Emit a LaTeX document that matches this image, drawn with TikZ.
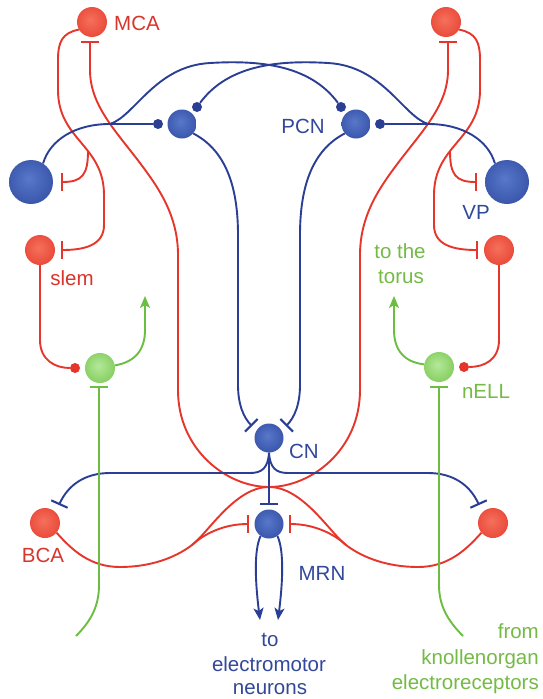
\documentclass[tikz,border=0pt]{standalone}
\usepackage{fontspec}
\setmainfont{Liberation Sans}
\usetikzlibrary{arrows.meta}
\definecolor{rline}{HTML}{E6352A}
\definecolor{bline}{HTML}{2A3F94}
\definecolor{gline}{HTML}{6CBE42}
\definecolor{rtext}{HTML}{D8352C}
\definecolor{btext}{HTML}{32489A}
\definecolor{gtext}{HTML}{74BB46}
\definecolor{rlight}{HTML}{F4715C}
\definecolor{rdark}{HTML}{E2261B}
\definecolor{blight}{HTML}{5878CA}
\definecolor{bdark}{HTML}{1E378E}
\definecolor{glight}{HTML}{B4E899}
\definecolor{gdark}{HTML}{5EB72E}
\pgfdeclareradialshading{redcellsh}{\pgfpoint{-3bp}{4bp}}{color(0bp)=(rlight); color(52bp)=(rdark)}
\pgfdeclareradialshading{bluecellsh}{\pgfpoint{-3bp}{4bp}}{color(0bp)=(blight); color(52bp)=(bdark)}
\pgfdeclareradialshading{greencellsh}{\pgfpoint{-3bp}{4bp}}{color(0bp)=(glight); color(52bp)=(gdark)}
\begin{document}
\begin{tikzpicture}[x=1pt,y=-1pt,
  cellbase/.style={circle,inner sep=0pt,minimum size=30pt,shade},
  rcell/.style={cellbase,shading=redcellsh},
  bcell/.style={cellbase,minimum size=29pt,shading=bluecellsh},
  bbig/.style={cellbase,minimum size=44pt,shading=bluecellsh},
  gcell/.style={cellbase,shading=greencellsh},
  bsyn/.style={circle,fill=bline,inner sep=0pt,minimum size=10pt},
  rsyn/.style={circle,fill=rline,inner sep=0pt,minimum size=10pt},
  rax/.style={draw=rline,line width=1.9pt},
  bax/.style={draw=bline,line width=1.9pt},
  gax/.style={draw=gline,line width=1.9pt},
  teeend/.style={-{Bar[width=18pt,line width=2.1pt]}},
  arrowend/.style={-{Stealth[length=12pt,width=10pt,inset=3pt]}},
  lab/.style={font=\fontsize{20.5}{25}\selectfont,inner sep=0pt,anchor=base}]
\useasboundingbox (0,0) rectangle (542,699);
\fill[white] (0,0) rectangle (542,699);

% cells
\node[rcell] (MCAL) at (92,22) {};
\node[rcell] (MCAR) at (446,22) {};
\node[bcell] (PCNL) at (182,124) {};
\node[bcell] (PCNR) at (356,124) {};
\node[bbig] (VPL) at (31,182) {};
\node[bbig] (VPR) at (507,182) {};
\node[rcell] (slemL) at (40,250) {};
\node[rcell] (slemR) at (499,250) {};
\node[gcell] (nellL) at (100,368) {};
\node[gcell] (nellR) at (439,367) {};
\node[bcell] (CN) at (269,438) {};
\node[bcell] (MRN) at (269,524) {};
\node[rcell] (BCAL) at (45,523) {};
\node[rcell] (BCAR) at (493,523) {};

% synaptic boutons
\node[bsyn] (sA) at (158,124) {};
\node[bsyn] (sB) at (197,107) {};
\node[bsyn] (sC) at (341,107) {};
\node[bsyn] (sD) at (380,124) {};
\node[rsyn] (sE) at (75,368) {};
\node[rsyn] (sF) at (464,367) {};

% coordinates
\coordinate (tMCAL) at (90,41);
\coordinate (tMCAR) at (448,41);
\coordinate (tVPL) at (61,182);
\coordinate (tVPR) at (477,182);
\coordinate (tSlemL) at (61,250);
\coordinate (tSlemR) at (478,250);
\coordinate (tNellL) at (99,386);
\coordinate (tNellR) at (439,386);
\coordinate (tCNL) at (252,426);
\coordinate (tCNR) at (286,426);
\coordinate (tMRNt) at (269,505);
\coordinate (tMRNl) at (249,524);
\coordinate (tMRNr) at (289,524);
\coordinate (tBCAL) at (59,505);
\coordinate (tBCAR) at (479,505);
\coordinate (inL) at (76,636);
\coordinate (inR) at (463,636);
\coordinate (torL) at (145,296);
\coordinate (torR) at (394,296);
\coordinate (emL) at (260,620);
\coordinate (emR) at (278,620);
\coordinate (jL) at (110,124);
\coordinate (jR) at (428,124);
\coordinate (b1) at (192,545);
\coordinate (b2) at (346,545);
\coordinate (mx) at (269,487);
\coordinate (bL) at (88,151);
\coordinate (bR) at (450,151);

% red connectors
\draw[rax,teeend] (MCAL.210) .. controls (62,33) and (58,42) .. (58,60) -- (58,90)
  .. controls (58,140) and (104,145) .. (104,195) -- (104,225)
  .. controls (104,245) and (85,250) .. (tSlemL);
\draw[rax,teeend] (bL) .. controls (88,175) and (82,182) .. (tVPL);
\draw[rax,teeend] (MCAR.330) .. controls (476,33) and (480,42) .. (480,60) -- (480,90)
  .. controls (480,140) and (434,145) .. (434,195) -- (434,225)
  .. controls (434,245) and (453,250) .. (tSlemR);
\draw[rax,teeend] (bR) .. controls (450,175) and (456,182) .. (tVPR);

\draw[rax,teeend] (BCAL.320) .. controls (72,550) and (90,567) .. (120,567)
  .. controls (150,567) and (175,558) .. (b1)
  .. controls (208,533) and (235,487) .. (mx)
  .. controls (311,487) and (360,450) .. (360,390) -- (360,255)
  .. controls (360,215) and (380,187) .. (398,163)
  .. controls (423,130) and (448,105) .. (448,70) -- (tMCAR);
\draw[rax,teeend] (b1) .. controls (205,533) and (225,524) .. (tMRNl);
\draw[rax,teeend] (BCAR.220) .. controls (466,550) and (448,567) .. (418,567)
  .. controls (388,567) and (363,558) .. (b2)
  .. controls (330,533) and (303,487) .. (mx)
  .. controls (227,487) and (178,450) .. (178,390) -- (178,255)
  .. controls (178,215) and (158,187) .. (140,163)
  .. controls (115,130) and (90,105) .. (90,70) -- (tMCAL);
\draw[rax,teeend] (b2) .. controls (333,533) and (313,524) .. (tMRNr);

\draw[rax] (slemL.south) -- (40,340) .. controls (40,360) and (55,368) .. (sE);
\draw[rax] (slemR.south) -- (499,340) .. controls (499,360) and (484,367) .. (sF);

% blue connectors
\draw[bax] (VPL.57) .. controls (50,140) and (75,124) .. (jL) -- (sA);
\draw[bax] (jL) .. controls (135,116) and (155,66) .. (210,63)
  .. controls (260,60) and (310,65) .. (sC);
\draw[bax] (VPR.123) .. controls (488,140) and (463,124) .. (jR) -- (sD);
\draw[bax] (jR) .. controls (403,116) and (383,66) .. (328,63)
  .. controls (278,60) and (228,65) .. (sB);
\draw[bax,teeend] (PCNL.320) .. controls (225,150) and (238,185) .. (238,235) -- (238,385)
  .. controls (238,405) and (244,418) .. (tCNL);
\draw[bax,teeend] (PCNR.220) .. controls (313,150) and (300,185) .. (300,235) -- (300,385)
  .. controls (300,405) and (294,418) .. (tCNR);
\draw[bax,teeend] (CN.south) -- (tMRNt);
\draw[bax,teeend] (CN.south) .. controls (268,468) and (262,473) .. (250,473) -- (110,473)
  .. controls (85,473) and (68,485) .. (tBCAL);
\draw[bax,teeend] (CN.south) .. controls (270,468) and (276,473) .. (288,473) -- (428,473)
  .. controls (453,473) and (470,485) .. (tBCAR);
\draw[bax,arrowend] (MRN.235) .. controls (254,550) and (255,580) .. (emL);
\draw[bax,arrowend] (MRN.305) .. controls (284,550) and (283,580) .. (emR);

% green connectors
\draw[gax,arrowend] (nellL.10) .. controls (135,362) and (145,350) .. (145,330) -- (torL);
\draw[gax,arrowend] (nellR.170) .. controls (404,362) and (394,350) .. (394,330) -- (torR);
\draw[gax,teeend] (inL) .. controls (92,620) and (99,605) .. (99,585) -- (tNellL);
\draw[gax,teeend] (inR) .. controls (447,620) and (439,605) .. (439,585) -- (tNellR);

% labels
\node[lab,rtext] (lMCA) at (137,30) {MCA};
\node[lab,btext] (lPCN) at (303,133) {PCN};
\node[lab,btext] (lVP) at (476,219) {VP};
\node[lab,rtext] (lslem) at (72,285) {slem};
\node[lab,gtext] (lnELL) at (486,398) {nELL};
\node[lab,btext] (lCN) at (304,458) {CN};
\node[lab,btext] (lMRN) at (322,580) {MRN};
\node[lab,rtext] (lBCA) at (43,562) {BCA};
\node[lab,gtext] (lto1) at (400,258) {to the};
\node[lab,gtext] (lto2) at (401,283) {torus};
\node[lab,btext] (le1) at (270,646) {to};
\node[lab,btext] (le2) at (269,671) {electromotor};
\node[lab,btext] (le3) at (270,694) {neurons};
\node[lab,gtext,anchor=base east] (lf1) at (539,638) {from};
\node[lab,gtext,anchor=base east] (lf2) at (539,664) {knollenorgan};
\node[lab,gtext,anchor=base east] (lf3) at (539,689) {electroreceptors};
\end{tikzpicture}
\end{document}
